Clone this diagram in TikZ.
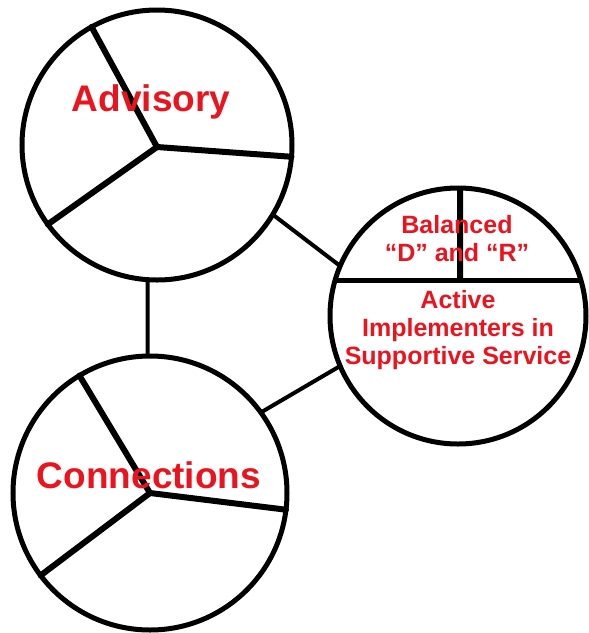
\documentclass[tikz,border=0pt]{standalone}
\usepackage{fontspec}
\setmainfont{Liberation Sans}
\definecolor{txtred}{RGB}{235,20,30}
\begin{document}
\begin{tikzpicture}[x=1pt,y=-1pt,
  ring/.style={circle,draw,line width=5pt,inner sep=0pt,outer sep=0pt,minimum size=#1},
  spoke/.style={line width=6pt,line cap=round},
  link/.style={line width=4pt},
  big/.style={text=txtred,font=\bfseries\fontsize{37}{37}\selectfont,inner sep=0pt},
  small/.style={text=txtred,font=\bfseries\fontsize{25}{28}\selectfont,align=center,inner sep=0pt}]
\useasboundingbox (0,0) rectangle (589,633);
% circles
\node[ring=270pt] (adv) at (157,145) {};
\node[ring=274pt] (con) at (150,493) {};
\node[ring=256pt] (bal) at (458,316) {};
% hubs
\coordinate (advhub) at (157,147);
\coordinate (conhub) at (150,493);
% spokes
\draw[spoke] (advhub) -- (adv.119);
\draw[spoke] (advhub) -- (adv.-5);
\draw[spoke] (advhub) -- (adv.216);
\draw[spoke] (conhub) -- (con.121);
\draw[spoke] (conhub) -- (con.-7);
\draw[spoke] (conhub) -- (con.217);
% divider in right circle
\coordinate (divL) at (336,280);
\coordinate (divR) at (583,280);
\coordinate (divM) at (460,280);
\draw[line width=5pt] (divL) -- (divR);
\draw[line width=6pt] (divM) -- (bal.89);
% connectors
\draw[link] (adv.-31) -- (bal.157);
\draw[link] (adv.-94) -- (con.91);
\draw[link] (con.36) -- (bal.203);
% texts
\node[big] (tadv) at (151,102) {Advisory};
\node[big] (tcon) at (149,475) {Connections};
\node[small] (tbal) at (457,239) {Balanced\\``D'' and ``R''};
\node[small] (tact) at (458,330) {Active\\Implementers in\\Supportive Service};
\end{tikzpicture}
\end{document}
